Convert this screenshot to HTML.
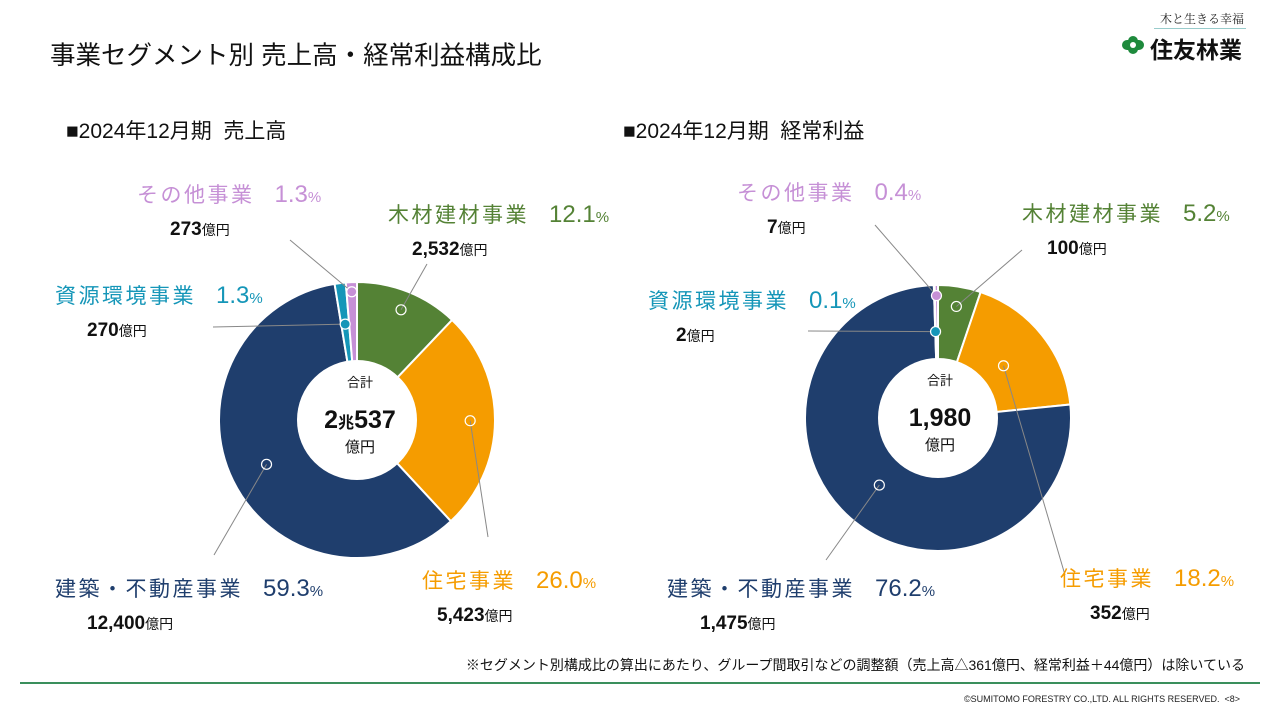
<!DOCTYPE html>
<html><head><meta charset="utf-8">
<style>
body{margin:0;width:1280px;height:720px;background:#fff;font-family:"Liberation Sans","Noto Sans CJK JP",sans-serif;overflow:hidden;position:relative}
.t{position:absolute;white-space:nowrap}
</style></head><body>
<div class="t" style="left:50px;top:35px;font-size:25.5px;color:#111">事業セグメント別 売上高・経常利益構成比</div>
<div style="position:absolute;left:1120px;top:8px;width:130px;height:50px">
  <div class="t" style="left:40px;top:2px;font-size:12px;color:#222;font-family:'Noto Serif CJK SC',serif">木と生きる幸福</div>
  <div style="position:absolute;left:34px;top:20px;width:92px;height:1px;background:#9cc"></div>
  <div class="t" style="left:2px;top:28px;width:22px;height:18px">
    <div style="position:absolute;left:6px;top:0;width:10px;height:18px;border-radius:5px;background:#1e8a3c"></div>
    <div style="position:absolute;left:0;top:4px;width:22px;height:10px;border-radius:5px;background:#1e8a3c"></div>
    <div style="position:absolute;left:8px;top:6px;width:6px;height:6px;border-radius:3px;background:#fff"></div>
  </div>
  <div class="t" style="left:30px;top:23px;font-size:23px;font-weight:bold;color:#111">住友林業</div>
</div>
<div class="t" style="left:66px;top:115px;font-size:21px;color:#111">■2024年12月期&nbsp;&nbsp;売上高</div>
<div class="t" style="left:623px;top:115px;font-size:21px;color:#111">■2024年12月期&nbsp;&nbsp;経常利益</div>
<svg id="svg" width="1280" height="720" style="position:absolute;left:0;top:0"></svg>
<div class="t" style="right:35px;top:655px;font-size:14px;color:#111">※セグメント別構成比の算出にあたり、グループ間取引などの調整額（売上高△361億円、経常利益＋44億円）は除いている</div>
<div style="position:absolute;left:20px;top:682px;width:1240px;height:2px;background:#3a8f5c"></div>
<div class="t" style="right:40px;top:694px;font-size:9px;color:#222">©SUMITOMO FORESTRY CO.,LTD. ALL RIGHTS RESERVED.&nbsp;&nbsp;&lt;8&gt;</div>
<script>
const segments=["木材建材事業","住宅事業","建築・不動産事業","資源環境事業","その他事業"];
const colors=["#548235","#f59c00","#1f3e6d","#1596b8","#c690d6"];
const salesPct=[12.1,26.0,59.3,1.3,1.3];
const salesAmt=["2,532","5,423","12,400","270","273"];
const profitPct=[5.2,18.2,76.2,0.1,0.4];
const profitAmt=["100","352","1,475","2","7"];
const NS="http://www.w3.org/2000/svg";
const svg=document.getElementById('svg');
function el(t,a){const e=document.createElementNS(NS,t);for(const k in a)e.setAttribute(k,a[k]);svg.appendChild(e);return e;}
function pt(cx,cy,r,a){return [cx+r*Math.sin(a),cy-r*Math.cos(a)];}
function donut(cx,cy,R,r,pcts,key,labels){
  const sum=pcts.reduce((a,b)=>a+b,0);let a0=0;const mids=[];
  pcts.forEach((p,i)=>{
    const a1=a0+p/sum*2*Math.PI;
    const [x0,y0]=pt(cx,cy,R,a0),[x1,y1]=pt(cx,cy,R,a1);
    const lg=(a1-a0)>Math.PI?1:0;
    const s=el('path',{d:`M${cx},${cy}L${x0},${y0}A${R},${R} 0 ${lg} 1 ${x1},${y1}Z`,fill:colors[i],stroke:'#fff','stroke-width':2});
    
    
    mids.push((a0+a1)/2);a0=a1;
  });
  const c=el('circle',{cx:cx,cy:cy,r:r,fill:'#fff'});
  
  
  labels.forEach((L,i)=>{
    const small=pcts[i]<2;
    const [mx,my]=pt(cx,cy,R*L.mr,mids[i]);
    const ln=el('line',{x1:L.lx,y1:L.ly,x2:mx,y2:my,stroke:'#888','stroke-width':1});
    
    
    const m=el('circle',{cx:mx,cy:my,r:5,fill:small?colors[i]:'none',stroke:'#fff','stroke-width':1.2});
    
    
    const t=el('text',{x:L.x,y:L.y,'font-size':21,fill:colors[i],'letter-spacing':2.5});
    
    
    t.innerHTML=segments[i]+'<tspan dx="20" font-size="24" letter-spacing="0">'+pcts[i].toFixed(1)+'</tspan><tspan font-size="15" letter-spacing="0">%</tspan>';
    const v=el('text',{x:L.vx,y:L.y+33,'font-size':19,'font-weight':'bold',fill:'#111'});
    
    
    v.innerHTML=L.amt+'<tspan font-size="14" font-weight="normal">億円</tspan>';
  });
}
const sL=[{x:388,y:222,vx:412,lx:427,ly:264,mr:0.86},{x:422,y:588,vx:437,lx:488,ly:537,mr:0.82},{x:55,y:596,vx:87,lx:214,ly:555,mr:0.73},{x:55,y:303,vx:87,lx:213,ly:327,mr:0.7},{x:137,y:202,vx:170,lx:290,ly:240,mr:0.93}];
sL.forEach((o,i)=>o.amt=salesAmt[i]);
const pL=[{x:1022,y:221,vx:1047,lx:1022,ly:250,mr:0.85},{x:1060,y:586,vx:1090,lx:1065,ly:575,mr:0.63},{x:667,y:596,vx:700,lx:826,ly:560,mr:0.67},{x:648,y:308,vx:676,lx:808,ly:331,mr:0.65},{x:737,y:200,vx:767,lx:875,ly:225,mr:0.92}];
pL.forEach((o,i)=>o.amt=profitAmt[i]);
donut(357,420,138,60,salesPct,'sales',sL);
donut(938,418,133,60,profitPct,'profit',pL);
function center(cx,cy,big,key){
  const a=el('text',{x:cx,y:cy-31,'font-size':13,'text-anchor':'middle',fill:'#111'});a.textContent='合計';
  
  
  const b=el('text',{x:cx,y:cy+10,'font-size':25,'font-weight':'bold','text-anchor':'middle',fill:'#111'});b.innerHTML=big;
  
  
  const u=el('text',{x:cx,y:cy+34,'font-size':15,'text-anchor':'middle',fill:'#111'});u.textContent='億円';
  
  
}
center(360,418,'2<tspan font-size="16">兆</tspan>537','sales');
center(940,416,'1,980','profit');
</script>
</body></html>
